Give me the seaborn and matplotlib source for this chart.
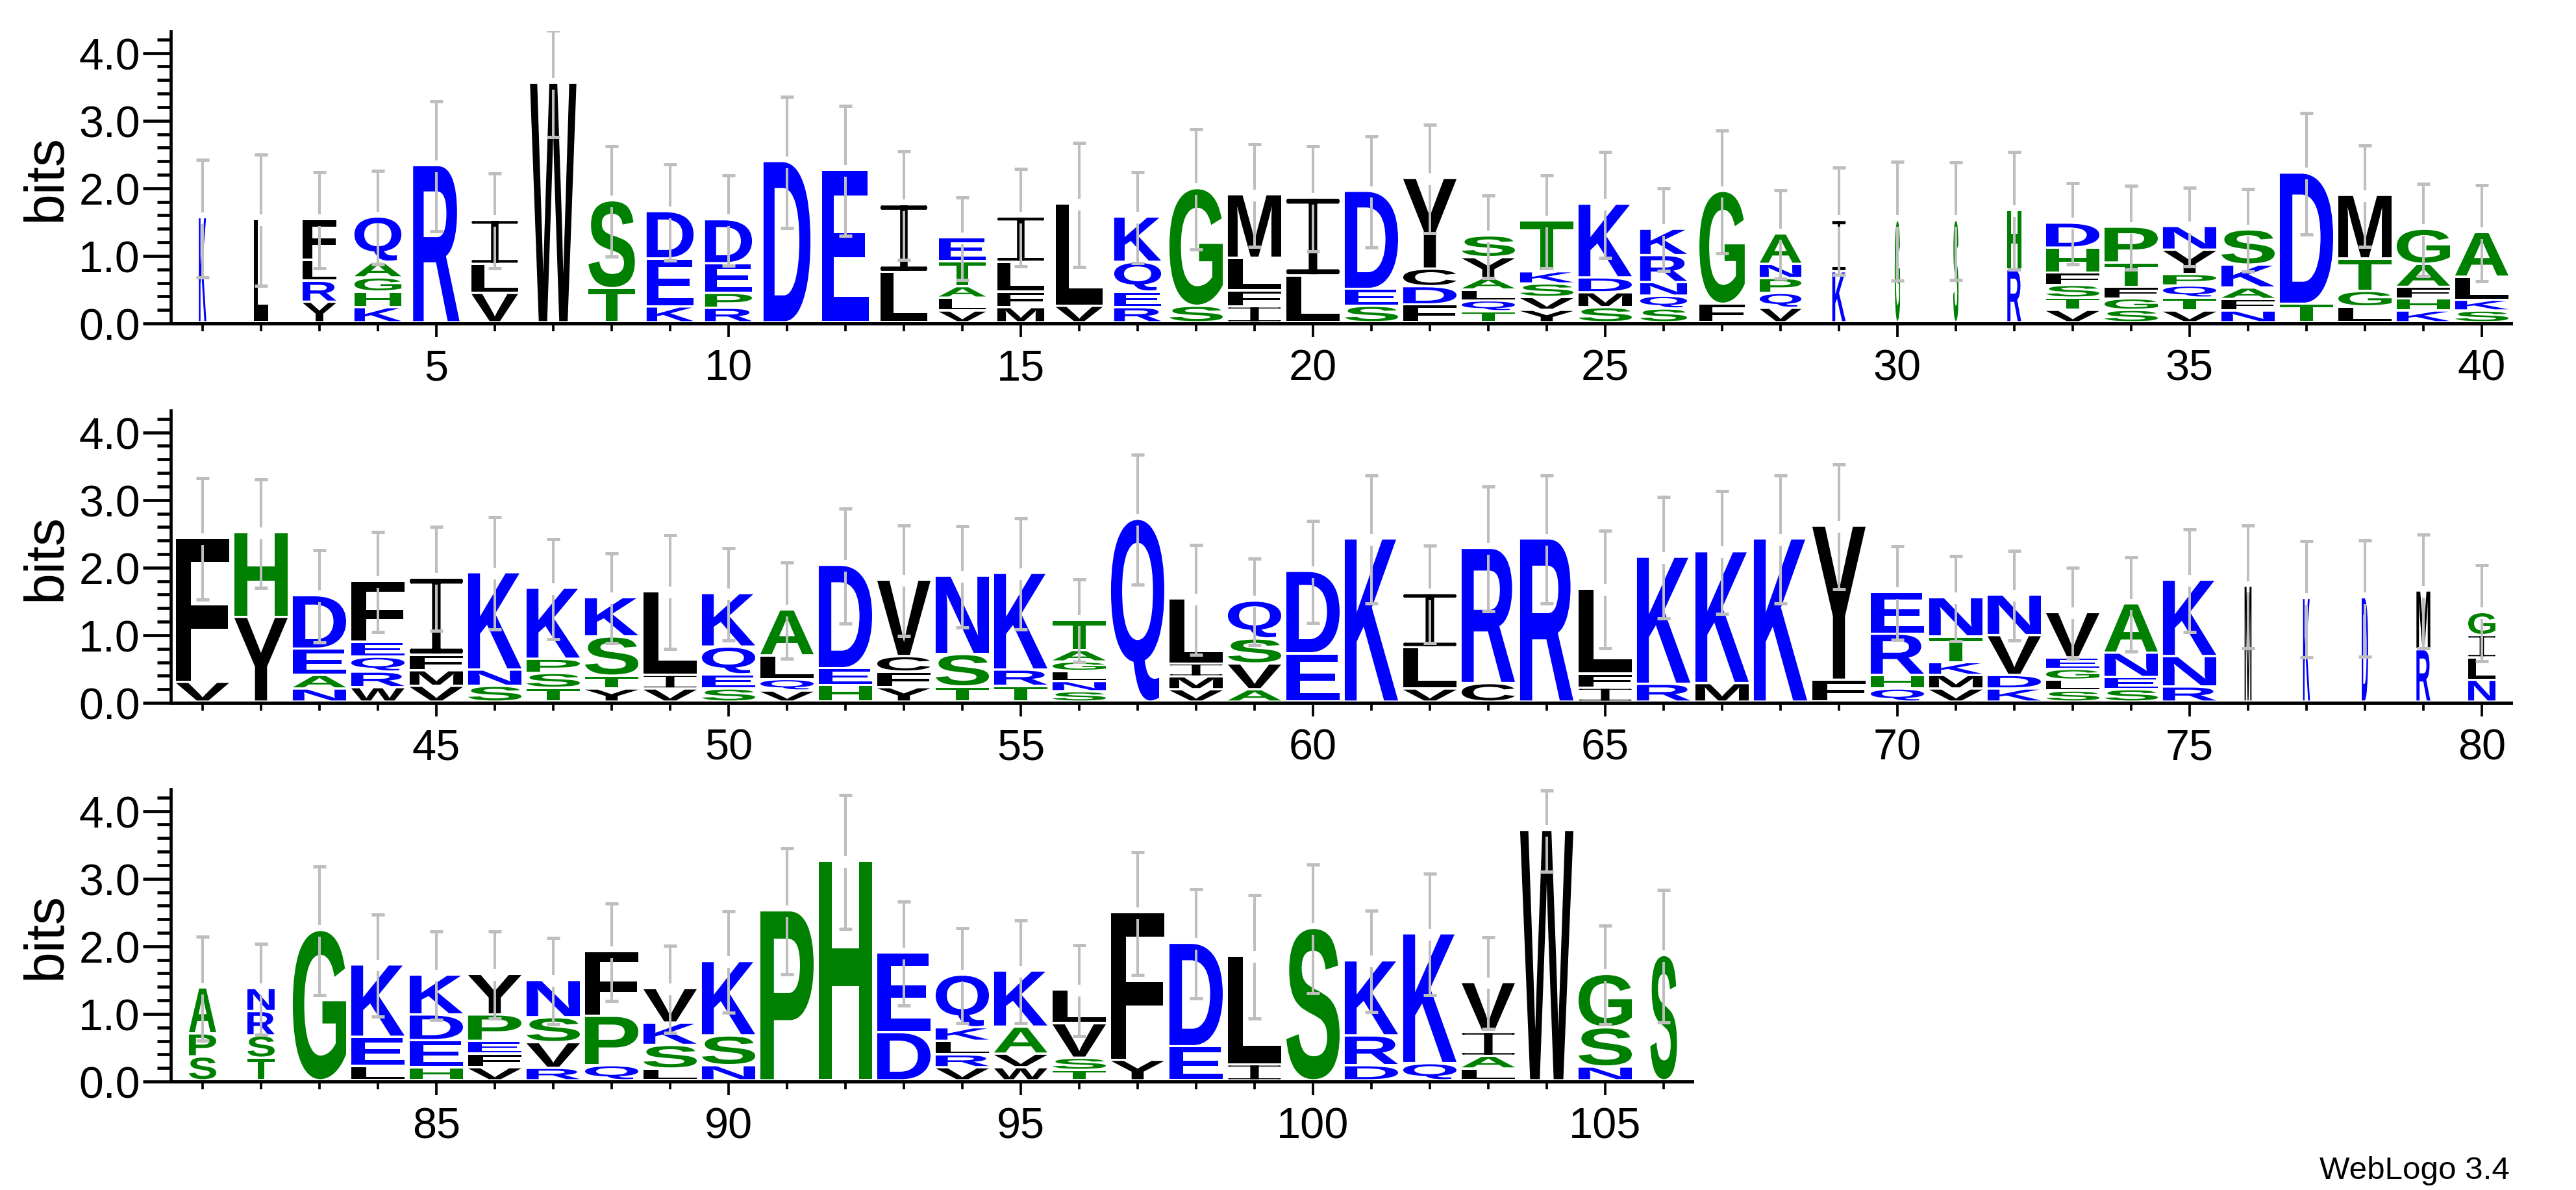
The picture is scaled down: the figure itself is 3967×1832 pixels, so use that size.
import matplotlib
matplotlib.use("Agg")
import matplotlib.pyplot as plt
import seaborn as sns
from matplotlib.font_manager import FontProperties
from matplotlib.patches import PathPatch
from matplotlib.path import Path
from matplotlib.textpath import TextPath
from matplotlib.ticker import MultipleLocator
from matplotlib.transforms import Affine2D

sns.set_theme(style="ticks")
plt.rcParams["font.family"] = ["Liberation Sans", "DejaVu Sans"]

# letters of each stack, bottom to top, and the bits of each letter
letters_1 = ["K", "L", "YRLF", "KHGAQ", "R", "VLI", "W", "TS", "KED", "RPED",
             "D", "E", "LI", "VLATE", "MFLI", "VL", "REQK", "SG", "IFLM", "LI",
             "SED", "FDCY", "TQLAYS", "YVSKT", "SMDK", "SQNRK", "FG", "VQPNA", "KI", "G",
             "S", "RH", "VTSFHD", "SGFTP", "VTQPYN", "NFAKS", "TD", "LGTM", "KHFAG", "SKLA"]
bits_1 = [[1.52], [1.49], [.27, .31, .31, .60], [.19, .23, .21, .23, .67], [2.29],
          [.40, .43, .65], [3.51], [.47, 1.30], [.20, .71, .70], [.18, .22, .44, .65],
          [2.35], [2.22], [.71, 1.00], [.14, .19, .17, .37, .35], [.19, .23, .44, .67],
          [.21, 1.51], [.19, .23, .44, .67], [.21, 1.74], [.20, .24, .48, .94], [.66, 1.15],
          [.21, .25, 1.45], [.23, .27, .26, 1.34], [.13, .16, .16, .17, .31, .32],
          [.15, .19, .20, .18, .75], [.19, .22, .22, 1.09], [.17, .19, .20, .40, .39],
          [.24, 1.67], [.18, .22, .22, .21, .45], [.72, .76], [1.48],
          [1.48], [.75, .88], [.15, .18, .19, .18, .37, .37], [.15, .17, .17, .36, .53],
          [.14, .19, .18, .17, .36, .35], [.14, .17, .17, .34, .52], [.24, 1.94],
          [.20, .23, .48, .94], [.14, .18, .17, .34, .52], [.14, .16, .34, .66]]
errors_1 = [.87, .97, .71, .69, .96, .70, .79, .82, .71, .67,
            .97, .96, .80, .61, .72, .92, .67, .89, .76, .78,
            .82, .80, .61, .69, .78, .61, .91, .65, .79, .88,
            .87, .87, .60, .62, .58, .61, .90, .75, .68, .71]
occupancy_1 = [.14, .26, .63, .88, .87, .87, .87, .87, .88, .88,
               .88, .88, .88, .88, .88, .88, .88, 1, 1, 1,
               1, 1, 1, 1, 1, .88, .85, .78, .25, .10,
               .10, .26, 1, 1, 1, 1, 1, 1, 1, 1]

letters_2 = ["VF", "YH", "NAED", "WRQEF", "VMFI", "SNK", "TSPK", "YTSK", "VIL", "SEQK",
             "VQLA", "HED", "YFCV", "TSN", "TRK", "SNLGAT", "Q", "VMIL", "AVSQ", "ED",
             "K", "VLI", "CR", "R", "IFL", "RK", "MK", "K", "FY", "QHRE",
             "VMKTN", "KDVN", "SLGEV", "SENA", "RNK", "M", "K", "D", "RM", "NLIG"]
bits_2 = [[.26, 2.13], [1.22, 1.25], [.16, .20, .39, .79], [.18, .23, .22, .22, .90],
          [.20, .23, .23, 1.14], [.20, .24, 1.44], [.17, .22, .21, 1.05], [.16, .19, .58, .58],
          [.16, .20, 1.24], [.16, .21, .41, .79], [.13, .17, .35, .68], [.21, .25, 1.53],
          [.18, .23, .23, 1.13], [.19, .48, 1.16], [.20, .24, 1.43],
          [.12, .15, .15, .14, .17, .45], [2.67], [.15, .19, .19, .96], [.15, .38, .37, .56],
          [.68, 1.22], [2.38], [.16, .61, .80], [.24, 2.00], [2.38], [.17, .21, 1.26],
          [.23, 1.88], [.24, 1.95], [2.38], [.29, 2.28], [.16, .20, .61, .62],
          [.16, .20, .19, .38, .58], [.16, .20, .59, .60], [.13, .16, .16, .17, .67],
          [.15, .18, .36, .73], [.19, .45, 1.13], [1.68], [1.50], [1.51], [.74, .87],
          [.29, .33, .33, .34]]
errors_2 = [.90, .80, .68, .74, .77, .83, .74, .66, .84, .68,
            .71, .85, .82, .75, .82, .61, .96, .81, .64, .75,
            .95, .72, .92, .95, .87, .90, .91, .95, .92, .69,
            .63, .66, .67, .70, .76, .91, .86, .86, .84, .71]
occupancy_2 = [1] * 35 + [.13, .13, .12, .26, .51]

letters_3 = ["SPA", "TSRN", "G", "LEK", "HEDK", "VFEPY", "RVSN", "QPF", "LSKV", "NSK",
             "P", "H", "DE", "VRLKQ", "WVAK", "TSVL", "YF", "ED", "IL", "S",
             "DRK", "QK", "LAIV", "W", "NSG", "S"]
bits_3 = [[.32, .34, .68], [.30, .33, .36, .34], [2.19], [.18, .43, 1.07], [.16, .40, .38, .59],
          [.16, .20, .19, .39, .60], [.15, .38, .37, .55], [.19, .73, .96], [.14, .35, .33, .51],
          [.19, .44, 1.10], [2.48], [3.21], [.68, 1.18], [.16, .19, .20, .20, .78],
          [.16, .20, .40, .83], [.12, .18, .51, .50], [.27, 2.18], [.47, 1.53], [.20, 1.61],
          [2.22], [.19, .44, 1.11], [.22, 1.92], [.14, .19, .35, .74], [3.67], [.17, .58, .79],
          [1.82]]
errors_3 = [.77, .67, .95, .75, .65, .64, .64, .72, .64, .75,
            .93, .99, .77, .70, .76, .67, .91, .81, .91, .95,
            .75, .90, .68, .60, .73, .98]
occupancy_3 = [.51, .51] + [1] * 23 + [.50]

colors = {}
for c in "KRDEQN":
    colors[c] = "#0000ff"
for c in "GSTPAH":
    colors[c] = "#008000"
for c in "LIVFMWYC":
    colors[c] = "#000000"

FIG_W, FIG_H = 3967, 1833
PX_LEFT = 263
PX_BIT = 104.1
TOP_BITS = 4.32
BASE = 0.035   # stacks sit just above the axis line
GAP = 0.034    # white between two letters
ERR_GAP = 0.086

bold = FontProperties(family="Liberation Sans", weight="bold")


def serif_i():
    # no installed font has this thin I with round-ended bars, so it is built by hand
    bar_h = 0.065
    parts = [Affine2D().scale(0.16, 1).translate(0.42, 0).transform_path(Path.unit_rectangle())]
    for y in (0, 1 - bar_h):
        parts.append(Affine2D().scale(0.94, bar_h).translate(0.03, y).transform_path(Path.unit_rectangle()))
        for x in (0.03, 0.97):
            parts.append(Affine2D().scale(0.03, bar_h / 2).translate(x, y + bar_h / 2).transform_path(Path.unit_circle()))
    return Path.make_compound_path(*parts)


def draw_letter(ax, ch, x, y0, y1, w):
    path = serif_i() if ch == "I" else TextPath((0, 0), ch, size=1, prop=bold)
    box = path.get_extents()
    tr = Affine2D().translate(-box.x0, -box.y0)
    tr = tr.scale(w / box.width, (y1 - y0) / box.height).translate(x - w / 2, y0)
    ax.add_patch(PathPatch(path.transformed(tr), fc=colors[ch], lw=0, clip_on=False, zorder=2))


def draw_row(ax, first, letters, bits, errors, occupancy):
    tops = []
    for i, (chars, hs, occ) in enumerate(zip(letters, bits, occupancy)):
        y = BASE
        for j, (ch, h) in enumerate(zip(chars, hs)):
            draw_letter(ax, ch, first + i, y + (GAP if j else 0), y + h, occ * 0.912)
            y += h
        tops.append(y)

    # error bars, broken around the top of the stack
    xs = [first + i for i in range(len(tops))]
    highs = [t + e for t, e in zip(tops, errors)]
    lows = [t - e for t, e in zip(tops, errors)]
    grey = "#bebebe"
    ax.vlines(xs, [t + ERR_GAP for t in tops], highs, color=grey, lw=2.9, zorder=3)
    ax.vlines(xs, lows, [t - ERR_GAP for t in tops], color=grey, lw=2.9, zorder=3)
    for ys in (highs, lows):
        ax.hlines(ys, [x - 0.11 for x in xs], [x + 0.11 for x in xs], color=grey, lw=3.6, zorder=3)


rows = [(1, 40.5, 499, letters_1, bits_1, errors_1, occupancy_1),
        (41, 80.5, 1083, letters_2, bits_2, errors_2, occupancy_2),
        (81, 106.49, 1666, letters_3, bits_3, errors_3, occupancy_3)]

fig = plt.figure(figsize=(FIG_W / 100, FIG_H / 100), dpi=100, facecolor="white")

for first, x_end, px_base, letters, bits, errors, occupancy in rows:
    x_start = first - 0.544
    px_w = (x_end - x_start) * 90
    px_h = TOP_BITS * PX_BIT
    ax = fig.add_axes([PX_LEFT / FIG_W, 1 - px_base / FIG_H, px_w / FIG_W, px_h / FIG_H])
    ax.set_xlim(x_start, x_end)
    ax.set_ylim(0, TOP_BITS)
    ax.patch.set_alpha(0)
    sns.despine(ax=ax)

    draw_row(ax, first, letters, bits, errors, occupancy)

    ax.xaxis.set_major_locator(MultipleLocator(5))
    ax.xaxis.set_minor_locator(MultipleLocator(1))
    ax.yaxis.set_major_locator(MultipleLocator(1))
    ax.yaxis.set_minor_locator(MultipleLocator(0.2))
    ax.yaxis.set_major_formatter("{x:.1f}")
    ax.tick_params(axis="x", which="major", length=15, width=2.7, labelsize=48, pad=13, color="black", labelcolor="black")
    ax.tick_params(axis="x", which="minor", length=8.6, width=2.7, color="black", bottom=True)
    ax.tick_params(axis="y", which="major", length=31, width=3.4, labelsize=49, pad=3, color="black", labelcolor="black")
    ax.tick_params(axis="y", which="minor", length=15, width=3.4, color="black", left=True)
    ax.spines["left"].set(linewidth=3.4, color="black")
    ax.spines["bottom"].set(linewidth=3.6, color="black")
    fig.text(72 / FIG_W, 1 - (px_base - px_h / 2) / FIG_H, "bits", rotation=90,
             ha="center", va="center", fontsize=62, color="black")

fig.text(3865 / FIG_W, 1 - 1815 / FIG_H, "WebLogo 3.4", ha="right", va="baseline", fontsize=35.5, color="black")

fig.savefig("out.png", dpi=100)
